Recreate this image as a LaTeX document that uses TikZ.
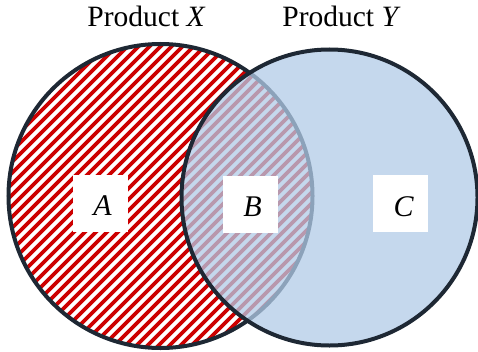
\documentclass[tikz,border=0pt]{standalone}
\usepackage{fontspec}
\setmainfont{Liberation Serif}
\definecolor{outl}{RGB}{30,40,52}
\definecolor{hatchred}{RGB}{205,0,0}
\definecolor{blueset}{RGB}{178,204,232}
\tikzset{
  lbox/.style={fill=white, inner sep=0pt, minimum width=55pt, minimum height=57pt},
  ltext/.style={font=\fontsize{30}{32}\selectfont\itshape, inner sep=0pt},
  title/.style={font=\fontsize{29.5}{31}\selectfont, anchor=base, inner sep=0pt},
  ring/.style={draw=outl, line width=4pt}
}
\begin{document}
\begin{tikzpicture}[x=1pt,y=1pt]
\useasboundingbox (0,0) rectangle (478,351);
\fill[white] (0,0) rectangle (478,351);
% left set, hatched
\begin{scope}
  \clip (160.5,155) circle (152);
  \foreach \k in {-40,...,45} {
    \draw[hatchred, line width=3.8pt] (\k*11,-10) -- ++(380,380);
  }
\end{scope}
\draw[ring] (160.5,155) circle (152);
% right set, translucent blue
\fill[blueset, fill opacity=0.75] (329.5,153.5) circle (148);
\draw[ring] (329.5,153.5) circle (148);
% titles
\node[title] (tx) at (146.5,324) {Product \textit{X}};
\node[title] (ty) at (341.5,324) {Product \textit{Y}};
% labels
\node[lbox] (a) at (100.5,148) {};
\node[ltext] (at) at ([xshift=2pt,yshift=-3pt]a.center) {A};
\node[lbox] (b) at (250.5,147) {};
\node[ltext] (bt) at ([xshift=2pt,yshift=-3pt]b.center) {B};
\node[lbox] (c) at (400.5,147.5) {};
\node[ltext] (ct) at ([xshift=3pt,yshift=-3pt]c.center) {C};
\end{tikzpicture}
\end{document}
